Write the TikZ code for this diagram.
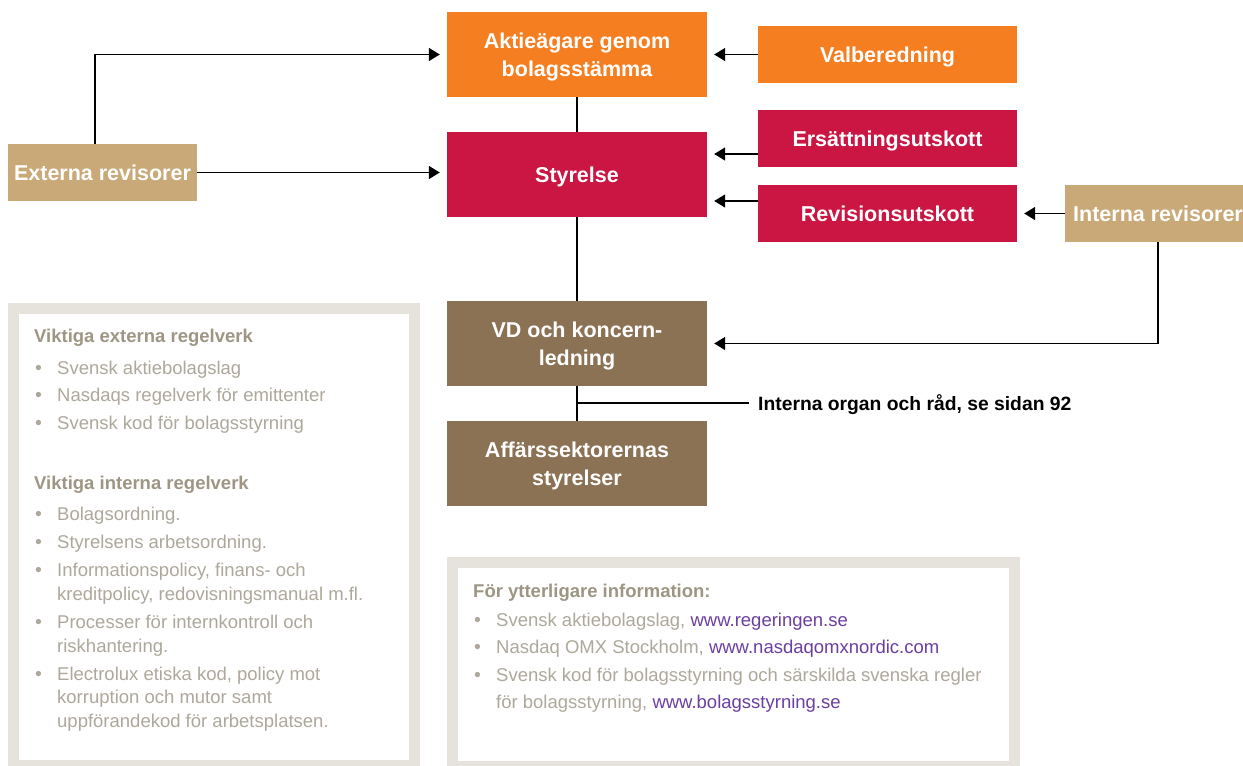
\documentclass[tikz,border=0pt]{standalone}
\usepackage{fontspec}
\setmainfont{Liberation Sans}
\usetikzlibrary{arrows.meta,calc}
\definecolor{corange}{RGB}{244,126,32}
\definecolor{ccrimson}{RGB}{203,21,67}
\definecolor{ctan}{RGB}{201,169,119}
\definecolor{cbrown}{RGB}{140,114,84}
\definecolor{cpanel}{RGB}{230,227,220}
\definecolor{chead}{RGB}{158,150,132}
\definecolor{citem}{RGB}{173,168,155}
\definecolor{clink}{RGB}{107,63,160}
\begin{document}
\begin{tikzpicture}[x=1pt,y=-1pt,
  orgbox/.style={rectangle, inner sep=0pt, text=white, align=center, text depth=0pt,
    font=\bfseries\fontsize{21.5}{28.5}\selectfont},
  conn/.style={line width=1.5pt, black},
  arrowconn/.style={conn, -{Triangle[length=11pt,width=13pt]}, shorten >=7pt},
  listtext/.style={anchor=base west, inner sep=0pt, text=citem,
    font=\fontsize{18.5}{22}\selectfont},
  listhead/.style={anchor=base west, inner sep=0pt, text=chead,
    font=\bfseries\fontsize{18.5}{22}\selectfont},
  bulletmark/.style={anchor=base west, inner sep=0pt, text=citem,
    font=\fontsize{19.5}{22}\selectfont}
]
\useasboundingbox (0,0) rectangle (1243,766);

% panels
\fill[cpanel] (8,303) rectangle (420,770);
\fill[white] (19,314) rectangle (409,760);
\fill[cpanel] (447,557) rectangle (1020,770);
\fill[white] (458,568) rectangle (1009,761);

% boxes
\node[orgbox, fill=corange, minimum width=260pt, minimum height=85pt] (akt) at (577,54.5) {Aktieägare genom\\bolagsstämma};
\node[orgbox, fill=corange, minimum width=259pt, minimum height=57pt] (val) at (887.5,54.5) {Valberedning};
\node[orgbox, fill=ctan, minimum width=189pt, minimum height=57pt] (ext) at (102.5,172.5) {Externa revisorer};
\node[orgbox, fill=ccrimson, minimum width=260pt, minimum height=85pt] (sty) at (577,174.5) {Styrelse};
\node[orgbox, fill=ccrimson, minimum width=259pt, minimum height=57pt] (ers) at (887.5,138.5) {Ersättningsutskott};
\node[orgbox, fill=ccrimson, minimum width=259pt, minimum height=57pt] (rev) at (887.5,213.5) {Revisionsutskott};
\node[orgbox, fill=ctan, minimum width=186pt, minimum height=57pt] (int) at (1158,213.5) {Interna revisorer};
\node[orgbox, fill=cbrown, minimum width=260pt, minimum height=85pt] (vd) at (577,343.5) {VD och koncern-\\ledning};
\node[orgbox, fill=cbrown, minimum width=260pt, minimum height=85pt] (aff) at (577,463.5) {Affärssektorernas\\styrelser};

% connectors
\draw[arrowconn] ([xshift=-7.5pt]ext.north) |- (akt.west);
\draw[arrowconn] (ext.east) -- (ext.east -| sty.west);
\draw[arrowconn] (val.west) -- (val.west -| akt.east);
\draw[arrowconn] ([yshift=-15.5pt]ers.west) -- ([yshift=-15.5pt]ers.west -| sty.east);
\draw[arrowconn] ([yshift=12.5pt]rev.west) -- ([yshift=12.5pt]rev.west -| sty.east);
\draw[arrowconn] (int.west) -- (int.west -| rev.east);
\draw[arrowconn] (int.south) |- (vd.east);
\draw[conn] (akt.south) -- (sty.north);
\draw[conn] (sty.south) -- (vd.north);
\draw[conn] (vd.south) -- (aff.north);

\node[anchor=base west, inner sep=0pt, font=\bfseries\fontsize{19.3}{23}\selectfont] (org) at (758,410) {Interna organ och råd, se sidan 92};
\coordinate (orgend) at (749,403);
\draw[conn] (vd.south |- orgend) -- (orgend);

% left panel text
\node[listhead] (h1) at (34,342) {Viktiga externa regelverk};
\foreach \yy in {374,401.5,429,520,548,576,628,680}
  \node[bulletmark] at (35,\yy) {•};
\node[listtext] at (57,374) {Svensk aktiebolagslag};
\node[listtext] at (57,401.5) {Nasdaqs regelverk för emittenter};
\node[listtext] at (57,429) {Svensk kod för bolagsstyrning};
\node[listhead] (h2) at (34,489) {Viktiga interna regelverk};
\node[listtext] at (57,520) {Bolagsordning.};
\node[listtext] at (57,548) {Styrelsens arbetsordning.};
\node[listtext] at (57,576) {Informationspolicy, finans- och};
\node[listtext] at (57,600) {kreditpolicy, redovisningsmanual m.fl.};
\node[listtext] at (57,628) {Processer för internkontroll och};
\node[listtext] at (57,652.5) {riskhantering.};
\node[listtext] at (57,680) {Electrolux etiska kod, policy mot};
\node[listtext] at (57,703.5) {korruption och mutor samt};
\node[listtext] at (57,727) {uppförandekod för arbetsplatsen.};

% right panel text
\node[listhead] (h3) at (473,597) {För ytterligare information:};
\foreach \yy in {626,653.5,681.5}
  \node[bulletmark] at (474,\yy) {•};
\node[listtext] at (496,626) {Svensk aktiebolagslag, \textcolor{clink}{www.regeringen.se}};
\node[listtext] at (496,653.5) {Nasdaq OMX Stockholm, \textcolor{clink}{www.nasdaqomxnordic.com}};
\node[listtext] at (496,681.5) {Svensk kod för bolagsstyrning och särskilda svenska regler};
\node[listtext] at (496,708.5) {för bolagsstyrning, \textcolor{clink}{www.bolagsstyrning.se}};
\end{tikzpicture}
\end{document}
